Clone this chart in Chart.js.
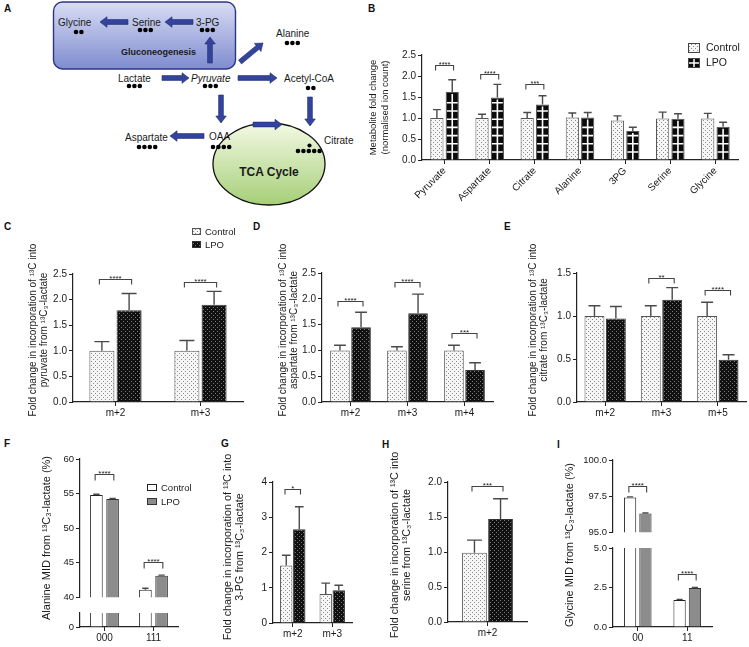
<!DOCTYPE html>
<html><head><meta charset="utf-8">
<script src="https://cdn.jsdelivr.net/npm/chart.js@4"></script>
<style>
html,body{margin:0;padding:0;background:#fff}
body{width:749px;height:647px;position:relative;overflow:hidden;font-family:"Liberation Sans",Arial,Helvetica,sans-serif}
canvas{position:absolute}
.pl{position:absolute;font-weight:bold;font-size:10px;color:#111}
#diag{position:absolute;left:0;top:0}
</style></head><body>
<svg id="diag" width="380" height="212" viewBox="0 0 380 212"></svg>
<div class="pl" style="left:4px;top:3px">A</div>
<div class="pl" style="left:368px;top:3px">B</div>
<div class="pl" style="left:4px;top:221px">C</div>
<div class="pl" style="left:253px;top:221px">D</div>
<div class="pl" style="left:504px;top:221px">E</div>
<div class="pl" style="left:4px;top:438px">F</div>
<div class="pl" style="left:221px;top:438px">G</div>
<div class="pl" style="left:382px;top:439px">H</div>
<div class="pl" style="left:557px;top:439px">I</div>
<script>
// ---------------- DATA ----------------
// Panel B: metabolite fold change (normalised ion count)
const bCategories = ['Pyruvate','Aspartate','Citrate','Alanine','3PG','Serine','Glycine'];
const bControl    = [1.00, 1.00, 1.00, 1.01, 0.94, 0.99, 0.99];
const bControlTop = [1.20, 1.09, 1.13, 1.12, 1.05, 1.14, 1.11];
const bLPO        = [1.62, 1.49, 1.32, 1.01, 0.69, 0.98, 0.79];
const bLPOTop     = [1.91, 1.80, 1.53, 1.13, 0.78, 1.10, 0.90];
const bSig        = [[0, 2.27, '****'], [1, 2.05, '****'], [2, 1.80, '***']];
const bTicks      = [0, 0.5, 1.0, 1.5, 2.0, 2.5];

// Panel C: pyruvate
const cLabels     = ['m+2','m+3'];
const cControl    = [1.00, 1.00];
const cControlTop = [1.18, 1.20];
const cLPO        = [1.79, 1.90];
const cLPOTop     = [2.12, 2.16];
const cSig        = [[0, 2.41, '****'], [1, 2.35, '****']];

// Panel D: aspartate
const dLabels     = ['m+2','m+3','m+4'];
const dControl    = [1.00, 1.00, 1.00];
const dControlTop = [1.10, 1.07, 1.10];
const dLPO        = [1.45, 1.72, 0.62];
const dLPOTop     = [1.74, 2.09, 0.76];
const dSig        = [[0, 1.96, '****'], [1, 2.32, '****'], [2, 1.33, '***']];

// Panel E: citrate
const eLabels     = ['m+2','m+3','m+5'];
const eControl    = [1.00, 1.00, 1.00];
const eControlTop = [1.12, 1.12, 1.16];
const eLPO        = [0.97, 1.19, 0.49];
const eLPOTop     = [1.11, 1.33, 0.55];
const eSig        = [[1, 1.44, '**'], [2, 1.30, '****']];

// Panel F: alanine MID (%)
const fLabels     = ['000','111'];
const fControl    = [54.8, 41.1];
const fControlTop = [54.9, 41.3];
const fLPO        = [54.2, 43.1];
const fLPOTop     = [54.3, 43.2];
const fSig        = [[0, 57.9, '****'], [1, 45.1, '****']];
const fUpperTicks = [40, 45, 50, 55, 60];
const fLowerTicks = [0, 25, 35];

// Panel G: 3-PG
const gLabels     = ['m+2','m+3'];
const gControl    = [1.63, 0.82];
const gControlTop = [1.92, 1.13];
const gLPO        = [2.66, 0.93];
const gLPOTop     = [3.30, 1.07];
const gSig        = [[0, 3.80, '*']];

// Panel H: serine
const hLabels     = ['m+2'];
const hControl    = [0.99];
const hControlTop = [1.17];
const hLPO        = [1.47];
const hLPOTop     = [1.76];
const hSig        = [[0, 1.94, '***']];

// Panel I: glycine MID (%)
const iLabels     = ['00','11'];
const iControl    = [97.40, 1.71];
const iControlTop = [97.45, 1.75];
const iLPO        = [96.30, 2.47];
const iLPOTop     = [96.33, 2.50];
const iSigUpper   = [[0, 98.2, '****']];
const iSigLower   = [[1, 3.35, '****']];
const iUpperTicks = [95, 97.5, 100];
const iLowerTicks = [0, 2.5, 5];

// ---------------- DIAGRAM (panel A) ----------------
(function(){
  function arrowPts(x1,y1,x2,y2,sw,hw,hl){
    sw=sw||4.8; hw=hw||10.5; hl=hl||7;
    const dx=x2-x1, dy=y2-y1, L=Math.hypot(dx,dy), ux=dx/L, uy=dy/L, px=-uy, py=ux;
    const bx=x2-ux*hl, by=y2-uy*hl;
    const p=[[x1+px*sw/2,y1+py*sw/2],[bx+px*sw/2,by+py*sw/2],[bx+px*hw/2,by+py*hw/2],[x2,y2],
             [bx-px*hw/2,by-py*hw/2],[bx-px*sw/2,by-py*sw/2],[x1-px*sw/2,y1-py*sw/2]];
    return p.map(q=>q[0].toFixed(1)+','+q[1].toFixed(1)).join(' ');
  }
  const arrows = [[128,22,100,22],[193,22,165,22],[210,63,210,37],[240,62,263,43],[162,78,189,78],
                  [238,78,277,78],[310,97,310,126],[221,95,221,123],[204,136,170,136],[253,124.5,282,124.5]];
  const texts = [['Glycine',58,22,''],['Serine',132,22,''],['3-PG',196,22,''],['Alanine',276,33,''],
                 ['Lactate',118,78,''],['Pyruvate',191,78,'font-style="italic"'],['Acetyl-CoA',284,78,''],
                 ['Aspartate',125,137,''],['OAA',209,136,''],['Citrate',324,140,'']];
  const dots = [[76,32,2],[140,30,3],[202,30,3],[287,43,3],[129,86,3],[205,86,3],[308,88,2],[139,147,4],[213,147,4],[298,151,5]];
  let s = `<defs>
    <linearGradient id="gb" x1="0" y1="0" x2="0" y2="1"><stop offset="0" stop-color="#d9ddf3"/><stop offset="1" stop-color="#7f8cd0"/></linearGradient>
    <linearGradient id="gg" x1="0" y1="0" x2="0" y2="1"><stop offset="0" stop-color="#f3f9e4"/><stop offset="1" stop-color="#a6cf78"/></linearGradient>
  </defs>
  <rect x="53.5" y="2" width="182" height="67" rx="9" fill="url(#gb)" stroke="#2b3585" stroke-width="1.4"/>
  <ellipse cx="269" cy="164" rx="56" ry="41" fill="url(#gg)" stroke="#111" stroke-width="1.3"/>`;
  arrows.forEach(a=>{ s += `<polygon points="${arrowPts(a[0],a[1],a[2],a[3])}" fill="#34449c" stroke="#1f2b70" stroke-width="0.6"/>`; });
  s += `<g font-family="Liberation Sans, Arial, sans-serif" font-size="10" fill="#1a1a1a">`;
  texts.forEach(t=>{ s += `<text x="${t[1]}" y="${t[2]}" dominant-baseline="central" ${t[3]}>${t[0]}</text>`; });
  s += `<text x="121" y="52" dominant-baseline="central" font-weight="bold" font-size="9">Gluconeogenesis</text>`;
  s += `<text x="269" y="172" dominant-baseline="central" text-anchor="middle" font-weight="bold" font-size="12">TCA Cycle</text></g>`;
  dots.forEach(d=>{ for(let k=0;k<d[2];k++) s += `<circle cx="${d[0]+k*5.4}" cy="${d[1]}" r="2.3" fill="#000"/>`; });
  s += `<circle cx="309.5" cy="145.5" r="2.1" fill="#000"/>`;
  document.getElementById('diag').innerHTML = s;
})();

// ---------------- CHARTS ----------------
Chart.defaults.font.family = '"Liberation Sans", Arial, Helvetica, sans-serif';
Chart.defaults.color = '#1a1a1a';

function pattern(bg, fg, pts, n){
  const c = document.createElement('canvas'); c.width = n; c.height = n;
  const x = c.getContext('2d'); x.fillStyle = bg; x.fillRect(0,0,n,n); x.fillStyle = fg;
  pts.forEach(p => x.fillRect(p[0], p[1], 1, 1));
  return x.createPattern(c, 'repeat');
}
const lightDots = pattern('#f6f6f6', '#8a8a8a', [[0,0],[2,2]], 4);
const darkDots  = pattern('#101010', '#7c7c7c', [[0,0],[2,2]], 4);
const AX = '#222';
const FONT = '"Liberation Sans", Arial, sans-serif';

function decor(p){
  return {
    id: 'decor',
    afterDatasetsDraw(chart){
      const ctx = chart.ctx, ys = chart.scales.y, area = chart.chartArea;
      const ox = p.L, oy = p.T;
      ctx.save();
      ctx.beginPath(); ctx.rect(area.left, area.top, area.right-area.left, area.bottom-area.top); ctx.clip();
      // white grid inside hatched bars
      p.series.forEach((s, di) => {
        if (!s.grid) return;
        chart.getDatasetMeta(di).data.forEach(bar => {
          const l = bar.x - bar.width/2 + 1.2, r = bar.x + bar.width/2 - 1.2;
          const top = Math.min(bar.y, bar.base), bot = Math.max(bar.y, bar.base);
          ctx.strokeStyle = '#fff'; ctx.lineWidth = 1.6;
          ctx.beginPath();
          for (let y = bot - 7.5; y > top + 3; y -= 8.2) { ctx.moveTo(l, y); ctx.lineTo(r, y); }
          ctx.moveTo(bar.x, bot); ctx.lineTo(bar.x, top + 2);
          ctx.stroke();
        });
      });
      // error bars (upper only)
      p.series.forEach((s, di) => {
        const meta = chart.getDatasetMeta(di);
        meta.data.forEach((bar, i) => {
          const v = chart.data.datasets[di].data[i], t = s.top[i];
          if (v == null || t == null) return;
          const y0 = ys.getPixelForValue(v), y1 = ys.getPixelForValue(t);
          const hw = bar.width * (p.cap || 0.6) / 2;
          ctx.strokeStyle = '#4a4a4a'; ctx.lineWidth = p.errW || 1.4;
          ctx.beginPath(); ctx.moveTo(bar.x, y0); ctx.lineTo(bar.x, y1);
          ctx.moveTo(bar.x - hw, y1); ctx.lineTo(bar.x + hw, y1); ctx.stroke();
        });
      });
      ctx.restore();
      ctx.save();
      // significance brackets
      (p.sig || []).forEach(sg => {
        const a = chart.getDatasetMeta(0).data[sg[0]], b = chart.getDatasetMeta(1).data[sg[0]];
        const y = Math.round(ys.getPixelForValue(sg[1])) + 0.5;
        const x1 = a.x - a.width*0.1, x2 = b.x + b.width*0.1, leg = p.leg || 5;
        ctx.strokeStyle = '#444'; ctx.lineWidth = 1.1;
        ctx.beginPath(); ctx.moveTo(x1, y+leg); ctx.lineTo(x1, y); ctx.lineTo(x2, y); ctx.lineTo(x2, y+leg); ctx.stroke();
        ctx.fillStyle = '#222'; ctx.font = (p.starSize || 8) + 'px ' + FONT;
        ctx.textAlign = 'center'; ctx.textBaseline = 'alphabetic';
        ctx.fillText(sg[2], (x1+x2)/2, y + 1);
      });
      // legend
      if (p.legend) {
        const lg = p.legend;
        ctx.font = lg.size + 'px ' + FONT;
        ctx.textAlign = 'left'; ctx.textBaseline = 'middle';
        lg.items.forEach((it, k) => {
          const x = lg.x - ox, y = lg.y - oy + k*lg.step;
          ctx.fillStyle = it.fill; ctx.fillRect(x, y, lg.w, lg.h);
          if (it.cross) {
            ctx.strokeStyle = '#fff'; ctx.lineWidth = 1.5; ctx.beginPath();
            ctx.moveTo(x+1, y+lg.h/2); ctx.lineTo(x+lg.w-1, y+lg.h/2);
            ctx.moveTo(x+lg.w/2, y+1); ctx.lineTo(x+lg.w/2, y+lg.h-1); ctx.stroke();
          }
          ctx.strokeStyle = it.stroke; ctx.lineWidth = 1; ctx.strokeRect(x+0.5, y+0.5, lg.w-1, lg.h-1);
          ctx.fillStyle = '#1a1a1a'; ctx.fillText(it.label, x + lg.w + (lg.gap || 4), y + lg.h/2 + 0.5);
        });
      }
      // free rotated (multi-line) axis title
      if (p.freeTitle) {
        const ft = p.freeTitle;
        ctx.font = ft.size + 'px ' + FONT;
        ctx.fillStyle = '#1a1a1a'; ctx.textAlign = 'center'; ctx.textBaseline = 'middle';
        ft.lines.forEach((line, k) => {
          ctx.save();
          ctx.translate(ft.xs[k] - ox, ft.y - oy); ctx.rotate(-Math.PI/2);
          ctx.fillText(line, 0, 0);
          ctx.restore();
        });
      }
      ctx.restore();
    }
  };
}

function barPanel(p){
  const c = document.createElement('canvas');
  c.width = p.W; c.height = p.H;
  Object.assign(c.style, {left: p.L+'px', top: p.T+'px', width: p.W+'px', height: p.H+'px'});
  document.body.appendChild(c);
  const xH = p.xHidden ? 0 : p.T + p.H - p.area.b;
  const yW = p.area.l - p.L;
  const ticksFixed = p.y.ticks;
  const datasets = p.series.map(s => ({
    label: s.label,
    data: s.data.map(v => (v < p.y.min ? null : v)),
    backgroundColor: s.fill, borderColor: s.stroke, borderWidth: s.bw || 1,
    barPercentage: p.barPct, categoryPercentage: p.catPct
  }));
  const fmt = p.y.fmt || (v => String(v));
  new Chart(c, {
    type: 'bar',
    data: { labels: p.labels, datasets },
    options: {
      responsive: false, animation: false, events: [], devicePixelRatio: 1,
      layout: { padding: { left: 0, right: p.L + p.W - p.area.r, top: p.area.t - p.T,
                           bottom: p.xHidden ? p.T + p.H - p.area.b : 0 } },
      plugins: { legend: { display: false }, tooltip: { enabled: false } },
      scales: {
        x: {
          display: !p.xHidden, offset: true,
          grid: { display: true, drawOnChartArea: false, offset: false, tickLength: 4, tickColor: AX, tickWidth: 1 },
          border: { display: true, color: AX, width: 1.2 },
          ticks: { font: { size: p.xFont || 10 }, color: '#1a1a1a', padding: 1, autoSkip: false,
                   maxRotation: p.rot || 0, minRotation: p.rot || 0 },
          afterFit: s => { s.height = xH; }
        },
        y: {
          min: p.y.min, max: p.y.max,
          grid: { display: true, drawOnChartArea: false, tickLength: 4, tickColor: AX, tickWidth: 1 },
          border: { display: true, color: AX, width: 1.2 },
          ticks: { font: { size: p.yFont || 10 }, color: '#1a1a1a', padding: 2,
                   callback: v => (p.y.blank && p.y.blank.includes(v)) ? '' : fmt(v) },
          afterBuildTicks: s => { s.ticks = ticksFixed.map(v => ({ value: v })); },
          title: p.title ? { display: true, text: p.title, color: '#1a1a1a',
                   font: { size: p.titleSize || 10.5, lineHeight: p.titleLH || 1.0 }, padding: { top: p.titlePad, bottom: 0 } }
                 : { display: false },
          afterFit: s => { s.width = yW; }
        }
      }
    },
    plugins: [decor(p)]
  });
}

const f2 = v => v.toFixed(1);

// Panel B
barPanel({
  L: 355, T: 0, W: 394, H: 215, area: { l: 422, t: 55, r: 738, b: 160 },
  labels: bCategories, rot: 45, xFont: 10, yFont: 10,
  y: { min: 0, max: 2.5, ticks: bTicks, fmt: f2 },
  series: [
    { label: 'Control', data: bControl, top: bControlTop, fill: lightDots, stroke: '#555' },
    { label: 'LPO', data: bLPO, top: bLPOTop, fill: '#0b0b0b', stroke: '#555', grid: true }
  ],
  catPct: 0.68, barPct: 0.86, cap: 0.6, sig: bSig, leg: 5, starSize: 7.5,
  title: ['Metabolite fold change', '(normalised ion count)'], titleSize: 9.5, titleLH: 1.3, titlePad: 12,
  legend: { x: 688, y: 43, w: 12, h: 10, step: 15, size: 10.5, gap: 6,
            items: [{ label: 'Control', fill: lightDots, stroke: '#444' }, { label: 'LPO', fill: '#0b0b0b', stroke: '#444', cross: true }] }
});

const lpoDark = (data, top) => ({ label: 'LPO', data, top, fill: darkDots, stroke: '#333' });
const ctrlL = (data, top) => ({ label: 'Control', data, top, fill: lightDots, stroke: '#555' });
const incTitle = w => ['Fold change in incorporation of \u00B9\u00B3C into', w + ' from \u00B9\u00B3C\u2083-lactate'];

// Panel C
barPanel({
  L: 25, T: 215, W: 225, H: 205, area: { l: 73, t: 274, r: 243, b: 402 },
  labels: cLabels, y: { min: 0, max: 2.5, ticks: bTicks, fmt: f2 },
  series: [ctrlL(cControl, cControlTop), lpoDark(cLPO, cLPOTop)],
  catPct: 0.64, barPct: 0.92, cap: 0.6, sig: cSig, leg: 5,
  freeTitle: { xs: [33, 44], y: 330, size: 10, lines: incTitle('pyruvate') },
  legend: { x: 192, y: 228, w: 9, h: 7, step: 13, size: 9.5,
            items: [{ label: 'Control', fill: lightDots, stroke: '#555' }, { label: 'LPO', fill: darkDots, stroke: '#333' }] }
});

// Panel D
barPanel({
  L: 270, T: 215, W: 228, H: 205, area: { l: 322, t: 273, r: 493, b: 402 },
  labels: dLabels, y: { min: 0, max: 2.5, ticks: bTicks, fmt: f2 },
  series: [ctrlL(dControl, dControlTop), lpoDark(dLPO, dLPOTop)],
  catPct: 0.74, barPct: 0.93, cap: 0.6, sig: dSig, leg: 5,
  freeTitle: { xs: [283, 294], y: 330, size: 10, lines: incTitle('aspartate') }
});

// Panel E
barPanel({
  L: 520, T: 215, W: 229, H: 205, area: { l: 577, t: 273, r: 746, b: 402 },
  labels: eLabels, y: { min: 0, max: 1.5, ticks: [0, 0.5, 1.0, 1.5], fmt: f2 },
  series: [ctrlL(eControl, eControlTop), lpoDark(eLPO, eLPOTop)],
  catPct: 0.76, barPct: 0.93, cap: 0.6, sig: eSig, leg: 5,
  freeTitle: { xs: [533, 544], y: 330, size: 10, lines: incTitle('citrate') }
});

// Panel F (broken axis: upper + lower)
const fSeries = [
  { label: 'Control', data: fControl, top: fControlTop, fill: '#ffffff', stroke: '#222' },
  { label: 'LPO', data: fLPO, top: fLPOTop, fill: '#8c8c8c', stroke: '#333' }
];
barPanel({
  L: 30, T: 440, W: 170, H: 207, area: { l: 80, t: 613, r: 178, b: 627 },
  labels: fLabels, yFont: 9.5, y: { min: 0, max: 35, ticks: fLowerTicks, blank: [35] },
  series: fSeries, catPct: 0.66, barPct: 0.78, cap: 0.5,
  freeTitle: { xs: [47], y: 538, size: 11, lines: ['Alanine MID from \u00B9\u00B3C\u2083-lactate (%)'] }
});
barPanel({
  L: 30, T: 440, W: 170, H: 165, area: { l: 80, t: 459, r: 178, b: 603 }, xHidden: true,
  labels: fLabels, yFont: 9.5, y: { min: 40, max: 60, ticks: fUpperTicks },
  series: fSeries, catPct: 0.66, barPct: 0.78, cap: 0.5, sig: fSig, leg: 6,
  legend: { x: 147, y: 484, w: 10, h: 7, step: 14, size: 9.5,
            items: [{ label: 'Control', fill: '#fff', stroke: '#222' }, { label: 'LPO', fill: '#8c8c8c', stroke: '#333' }] }
});

// Panel G
barPanel({
  L: 215, T: 440, W: 145, H: 207, area: { l: 273, t: 482, r: 352, b: 623 },
  labels: gLabels, y: { min: 0, max: 4, ticks: [0, 1, 2, 3, 4] },
  series: [ctrlL(gControl, gControlTop), lpoDark(gLPO, gLPOTop)],
  catPct: 0.66, barPct: 0.95, cap: 0.7, sig: gSig, leg: 5,
  freeTitle: { xs: [228, 240], y: 547, size: 10.8, lines: incTitle('3-PG') }
});

// Panel H
barPanel({
  L: 380, T: 440, W: 152, H: 207, area: { l: 448, t: 482, r: 527, b: 622 },
  labels: hLabels, y: { min: 0, max: 2.0, ticks: [0, 0.5, 1.0, 1.5, 2.0], fmt: f2 },
  series: [ctrlL(hControl, hControlTop), lpoDark(hLPO, hLPOTop)],
  catPct: 0.66, barPct: 0.95, cap: 0.6, sig: hSig, leg: 5,
  freeTitle: { xs: [395, 407], y: 545, size: 10.8, lines: incTitle('serine') }
});

// Panel I (broken axis)
const iSeries = [
  { label: 'Control', data: iControl, top: iControlTop, fill: '#ffffff', stroke: '#222' },
  { label: 'LPO', data: iLPO, top: iLPOTop, fill: '#8c8c8c', stroke: '#333' }
];
barPanel({
  L: 560, T: 440, W: 165, H: 207, area: { l: 613, t: 548, r: 712, b: 627 },
  labels: iLabels, yFont: 9.5, y: { min: 0, max: 5, ticks: iLowerTicks, fmt: f2 },
  series: iSeries, catPct: 0.62, barPct: 0.8, cap: 0.5, sig: iSigLower, leg: 6,
  freeTitle: { xs: [570], y: 545, size: 11, lines: ['Glycine MID from \u00B9\u00B3C\u2083-lactate (%)'] }
});
barPanel({
  L: 560, T: 440, W: 165, H: 100, area: { l: 613, t: 460, r: 712, b: 538 }, xHidden: true,
  labels: iLabels, yFont: 9.5, y: { min: 95, max: 100, ticks: iUpperTicks, fmt: f2 },
  series: iSeries, catPct: 0.62, barPct: 0.8, cap: 0.5, sig: iSigUpper, leg: 6
});
</script>
</body></html>
